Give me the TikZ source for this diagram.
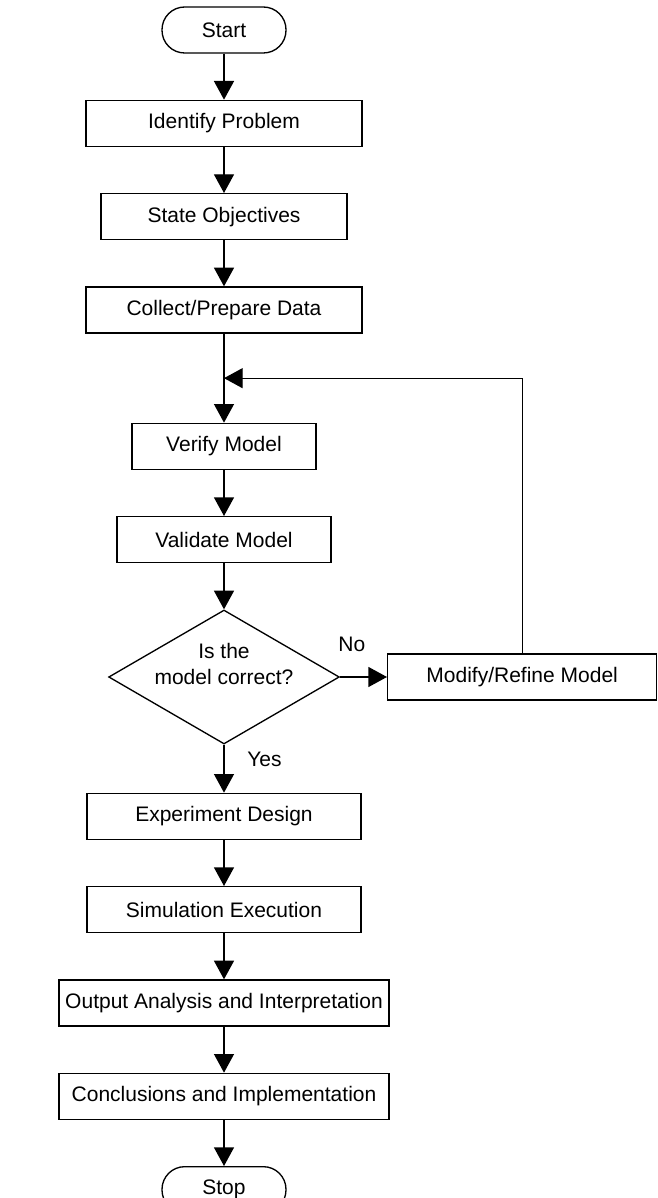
\documentclass[tikz,border=0pt]{standalone}
\usepackage{fontspec}
\setmainfont{Liberation Sans}
\usetikzlibrary{positioning,shapes.geometric,arrows.meta,calc}
\tikzset{
termbox/.style={
    draw, rectangle, rounded corners=17pt,
    minimum width=93pt, minimum height=34.5pt,
    inner sep=2pt, text=black
  }
}

\begin{document}
\begin{tikzpicture}[
 font=\fontsize{15.75}{19.5}\selectfont,
 procbox/.style={draw, rectangle, minimum height=34.5pt, inner sep=2pt},
 decbox/.style={
        draw, diamond, aspect=1.72,
        minimum width=173pt, minimum height=100.5pt, inner sep=0pt
    },
 arr/.style={-{Triangle[length=14pt,width=15pt]}},
    line width=1pt, node distance=34.5pt
  ]
\useasboundingbox (0,0) rectangle (492.75pt,-898.5pt);

\node[termbox] (S) at (168pt,-22.5pt) {Start};
\node[procbox, minimum width=207pt] (P) [below=of S] {Identify Problem};
\node[procbox, minimum width=184.5pt] (O) [below=of P] {State Objectives};
\node[procbox, minimum width=207pt] (D) [below=of O] {Collect/Prepare Data};
\node[procbox, minimum width=138pt] (V) [below=66.75pt of D] {Verify Model};
\node[procbox, minimum width=160.5pt] (L) [below=of V] {Validate Model};
\node[decbox] (Q) [below=of L] {};
\node[align=center, inner sep=0pt] (q) at ([yshift=9.75pt]Q.center) {Is the\\model correct?};
\node[procbox, minimum width=201.75pt] (M) [right=35.25pt of Q] {Modify/Refine Model};
\node[procbox, minimum width=205.5pt] (X) [below=36pt of Q] {Experiment Design};
\node[procbox, minimum width=205.5pt] (E) [below=of X] {Simulation Execution};
\node[procbox, minimum width=247.5pt] (A) [below=of E] {Output Analysis and Interpretation};
\node[procbox, minimum width=247.5pt] (C) [below=of A] {Conclusions and Implementation};
\node[termbox] (T) [below=of C] {Stop};

\coordinate (J) at ($(D.south)!0.5!(V.north)$);

\draw[arr] (S) -- (P);
\draw[arr] (P) -- (O);
\draw[arr] (O) -- (D);
\draw[arr] (D) -- (V);
\draw[arr] (V) -- (L);
\draw[arr] (L) -- (Q);
\draw[arr] (Q) -- node[pos=0.25, above=18.75pt, inner sep=0pt] {No} (M);
\draw[arr] (M.north) |- (J);
\draw[arr] (Q) -- node[pos=0.3, right=17pt, inner sep=0pt] {Yes} (X);
\draw[arr] (X) -- (E);
\draw[arr] (E) -- (A);
\draw[arr] (A) -- (C);
\draw[arr] (C) -- (T);
\end{tikzpicture}
\end{document}
